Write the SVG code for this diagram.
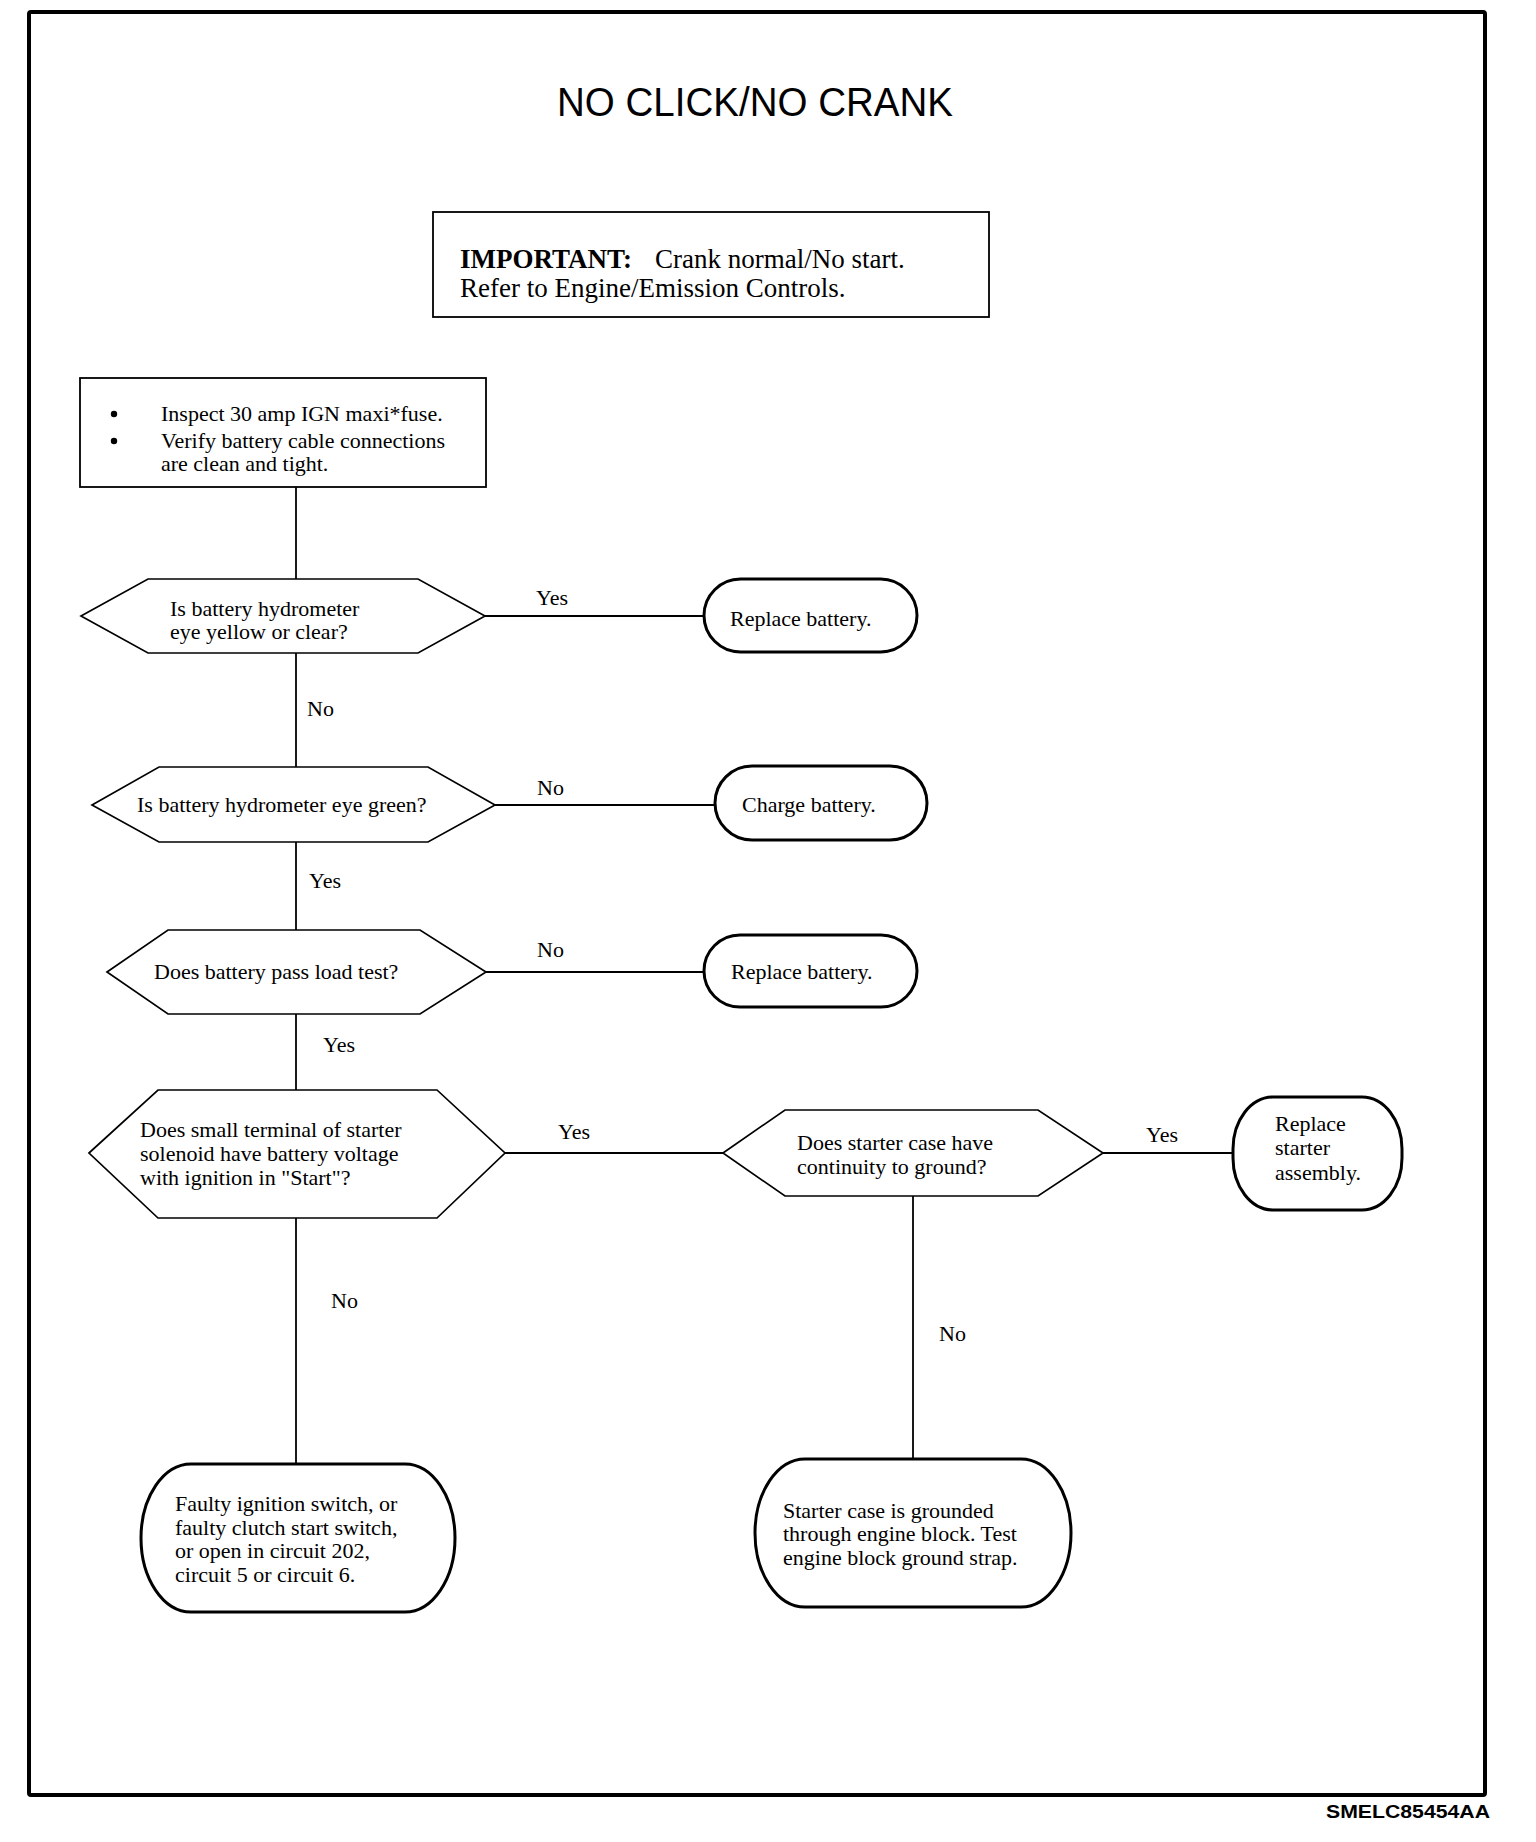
<svg xmlns="http://www.w3.org/2000/svg" width="1536" height="1842" viewBox="0 0 1536 1842">
<style>
  .t { font-family: "Liberation Serif", "Times New Roman", serif; font-size: 22px; fill: #000; }
  .lbl { font-family: "Liberation Serif", "Times New Roman", serif; font-size: 22px; fill: #000; }
  .hex { fill: #fff; stroke: #000; stroke-width: 1.7; stroke-linejoin: miter; }
  .pill { fill: #fff; stroke: #000; stroke-width: 3; }
  .box { fill: #fff; stroke: #000; stroke-width: 1.8; }
  .conn { stroke: #000; stroke-width: 1.8; fill: none; }
</style>
<rect x="0" y="0" width="1536" height="1842" fill="#fff"/>
<rect x="29" y="12" width="1456" height="1783" fill="none" stroke="#000" stroke-width="4" rx="2"/>
<text x="755" y="116" text-anchor="middle" font-family="'Liberation Sans', Arial, sans-serif" font-size="40" textLength="396" lengthAdjust="spacingAndGlyphs">NO CLICK/NO CRANK</text>

<g id="connectors">
  <line class="conn" x1="296" y1="487" x2="296" y2="579"/>
  <line class="conn" x1="485" y1="616" x2="704" y2="616"/>
  <line class="conn" x1="296" y1="653" x2="296" y2="767"/>
  <line class="conn" x1="495" y1="805" x2="715" y2="805"/>
  <line class="conn" x1="296" y1="842" x2="296" y2="930"/>
  <line class="conn" x1="486" y1="972" x2="704" y2="972"/>
  <line class="conn" x1="296" y1="1014" x2="296" y2="1090"/>
  <line class="conn" x1="505" y1="1153" x2="723" y2="1153"/>
  <line class="conn" x1="1103" y1="1153" x2="1233" y2="1153"/>
  <line class="conn" x1="296" y1="1218" x2="296" y2="1464"/>
  <line class="conn" x1="913" y1="1196" x2="913" y2="1459"/>
  <text class="lbl" x="536" y="605">Yes</text>
  <text class="lbl" x="307" y="716">No</text>
  <text class="lbl" x="537" y="795">No</text>
  <text class="lbl" x="309" y="888">Yes</text>
  <text class="lbl" x="537" y="957">No</text>
  <text class="lbl" x="323" y="1052">Yes</text>
  <text class="lbl" x="558" y="1139">Yes</text>
  <text class="lbl" x="1146" y="1142">Yes</text>
  <text class="lbl" x="331" y="1308">No</text>
  <text class="lbl" x="939" y="1341">No</text>
</g>

<g id="important">
  <rect class="box" x="433" y="212" width="556" height="105"/>
  <text x="460" y="268" font-family="'Liberation Serif', 'Times New Roman', serif" font-size="27"><tspan font-weight="bold">IMPORTANT:</tspan><tspan x="655">Crank normal/No start.</tspan></text>
  <text x="460" y="297" font-family="'Liberation Serif', 'Times New Roman', serif" font-size="27">Refer to Engine/Emission Controls.</text>
</g>

<g id="inspect">
  <rect class="box" x="80" y="378" width="406" height="109"/>
  <circle cx="114" cy="414" r="3.2" fill="#000"/>
  <circle cx="114" cy="441" r="3.2" fill="#000"/>
  <text class="t" x="161" y="421">Inspect 30 amp IGN maxi*fuse.</text>
  <text class="t" x="161" y="448">Verify battery cable connections</text>
  <text class="t" x="161" y="471">are clean and tight.</text>
</g>

<g id="q1">
  <polygon class="hex" points="81,616 148,579 418,579 485,616 418,653 148,653"/>
  <text class="t" x="170" y="616">Is battery hydrometer</text>
  <text class="t" x="170" y="639">eye yellow or clear?</text>
</g>

<g id="replace-battery-1">
  <rect class="pill" x="704" y="579" width="213" height="73" rx="36.5" ry="36.5"/>
  <text class="t" x="730" y="626">Replace battery.</text>
</g>

<g id="q2">
  <polygon class="hex" points="92,805 159,767 428,767 495,805 428,842 159,842"/>
  <text class="t" x="137" y="812">Is battery hydrometer eye green?</text>
</g>

<g id="charge-battery">
  <rect class="pill" x="715" y="766" width="212" height="74" rx="37" ry="37"/>
  <text class="t" x="742" y="812">Charge battery.</text>
</g>

<g id="q3">
  <polygon class="hex" points="107,972 168,930 420,930 486,972 420,1014 168,1014"/>
  <text class="t" x="154" y="979">Does battery pass load test?</text>
</g>

<g id="replace-battery-2">
  <rect class="pill" x="704" y="935" width="213" height="72" rx="36" ry="36"/>
  <text class="t" x="731" y="979">Replace battery.</text>
</g>

<g id="q4">
  <polygon class="hex" points="89,1153 158,1090 437,1090 505,1153 437,1218 158,1218"/>
  <text class="t" x="140" y="1137">Does small terminal of starter</text>
  <text class="t" x="140" y="1161">solenoid have battery voltage</text>
  <text class="t" x="140" y="1185">with ignition in "Start"?</text>
</g>

<g id="q5">
  <polygon class="hex" points="723,1153 785,1110 1038,1110 1103,1153 1038,1196 785,1196"/>
  <text class="t" x="797" y="1150">Does starter case have</text>
  <text class="t" x="797" y="1174">continuity to ground?</text>
</g>

<g id="replace-starter">
  <rect class="pill" x="1233" y="1097" width="169" height="113" rx="40" ry="52"/>
  <text class="t" x="1275" y="1131">Replace</text>
  <text class="t" x="1275" y="1155">starter</text>
  <text class="t" x="1275" y="1180">assembly.</text>
</g>

<g id="faulty-switch">
  <rect class="pill" x="141" y="1464" width="314" height="148" rx="50" ry="74"/>
  <text class="t" x="175" y="1511">Faulty ignition switch, or</text>
  <text class="t" x="175" y="1535">faulty clutch start switch,</text>
  <text class="t" x="175" y="1558">or open in circuit 202,</text>
  <text class="t" x="175" y="1582">circuit 5 or circuit 6.</text>
</g>

<g id="starter-grounded">
  <rect class="pill" x="755" y="1459" width="316" height="148" rx="50" ry="74"/>
  <text class="t" x="783" y="1518">Starter case is grounded</text>
  <text class="t" x="783" y="1541">through engine block. Test</text>
  <text class="t" x="783" y="1565">engine block ground strap.</text>
</g>

<text x="1490" y="1818" text-anchor="end" font-family="'Liberation Sans', Arial, sans-serif" font-size="19" font-weight="bold" textLength="164" lengthAdjust="spacingAndGlyphs">SMELC85454AA</text>
</svg>
